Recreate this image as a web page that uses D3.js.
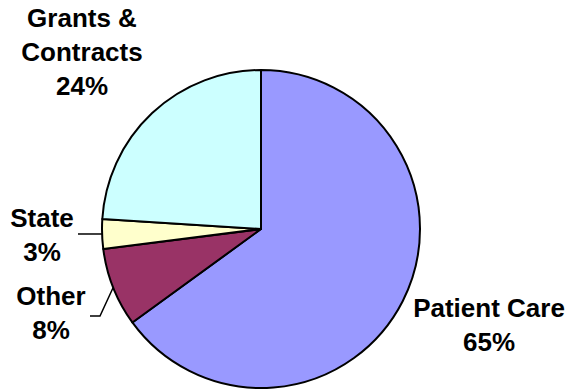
<!DOCTYPE html>
<meta charset="utf-8">

<script src="https://d3js.org/d3.v7.min.js"></script>

<style type="text/css">
  body { margin: 0; background: #fff; }
  text { font-family: Arial, "Liberation Sans", sans-serif; font-weight: bold; font-size: 26px; fill: #000; }
</style>

<body>
</body>

<script>

var categories = ["Patient Care", "Other", "State", "Grants & Contracts"];
var values = [65, 8, 3, 24];
var labelLines = [["Patient Care", "65%"], ["Other", "8%"], ["State", "3%"], ["Grants &", "Contracts", "24%"]];

var colors = ["#9999ff", "#993366", "#ffffcc", "#ccffff"];

var width = 569, height = 390;
var cx = 261, cy = 229, radius = 159;

// label block centres (x) and first baseline (y)
var labelPos = [
  {x: 489, y: 317},
  {x: 51, y: 305},
  {x: 42, y: 227},
  {x: 82, y: 27}
];
var lineStep = 34;

var data = categories.map(function(c, i) { return {name: c, value: values[i], i: i}; });

var svg = d3.select("body").append("svg")
    .attr("width", width)
    .attr("height", height)
  .append("g")
    .attr("transform", "translate(" + cx + "," + cy + ")");

var pie = d3.pie()
    .sort(null)
    .value(function(d) { return d.value; });

var arc = d3.arc()
    .innerRadius(0)
    .outerRadius(radius);

var arcs = pie(data);

svg.selectAll(".slice")
    .data(arcs)
  .enter().append("path")
    .attr("class", "slice")
    .attr("d", arc)
    .attr("fill", function(d) { return colors[d.data.i]; })
    .attr("stroke", "#000")
    .attr("stroke-width", 2)
    .attr("stroke-linejoin", "round");

function edgePoint(d) {
  var a = (d.startAngle + d.endAngle) / 2;
  return [radius * Math.sin(a), -radius * Math.cos(a)];
}

// leader lines for the small slices
var other = edgePoint(arcs[1]);
svg.append("polyline")
    .attr("points", [other, [100 - cx, 316 - cy], [90 - cx, 316 - cy]].join(" "))
    .attr("fill", "none")
    .attr("stroke", "#000")
    .attr("stroke-width", 1.5);

var state = edgePoint(arcs[2]);
svg.append("polyline")
    .attr("points", [state, [78 - cx, state[1]]].join(" "))
    .attr("fill", "none")
    .attr("stroke", "#000")
    .attr("stroke-width", 1.5);

var labels = d3.select("svg").selectAll(".label")
    .data(data)
  .enter().append("text")
    .attr("class", "label")
    .attr("text-anchor", "middle")
    .attr("x", function(d) { return labelPos[d.i].x; })
    .attr("y", function(d) { return labelPos[d.i].y; });

labels.selectAll("tspan")
    .data(function(d) { return labelLines[d.i].map(function(t) { return {t: t, x: labelPos[d.i].x}; }); })
  .enter().append("tspan")
    .attr("x", function(d) { return d.x; })
    .attr("dy", function(d, j) { return j === 0 ? 0 : lineStep; })
    .text(function(d) { return d.t; });

</script>
